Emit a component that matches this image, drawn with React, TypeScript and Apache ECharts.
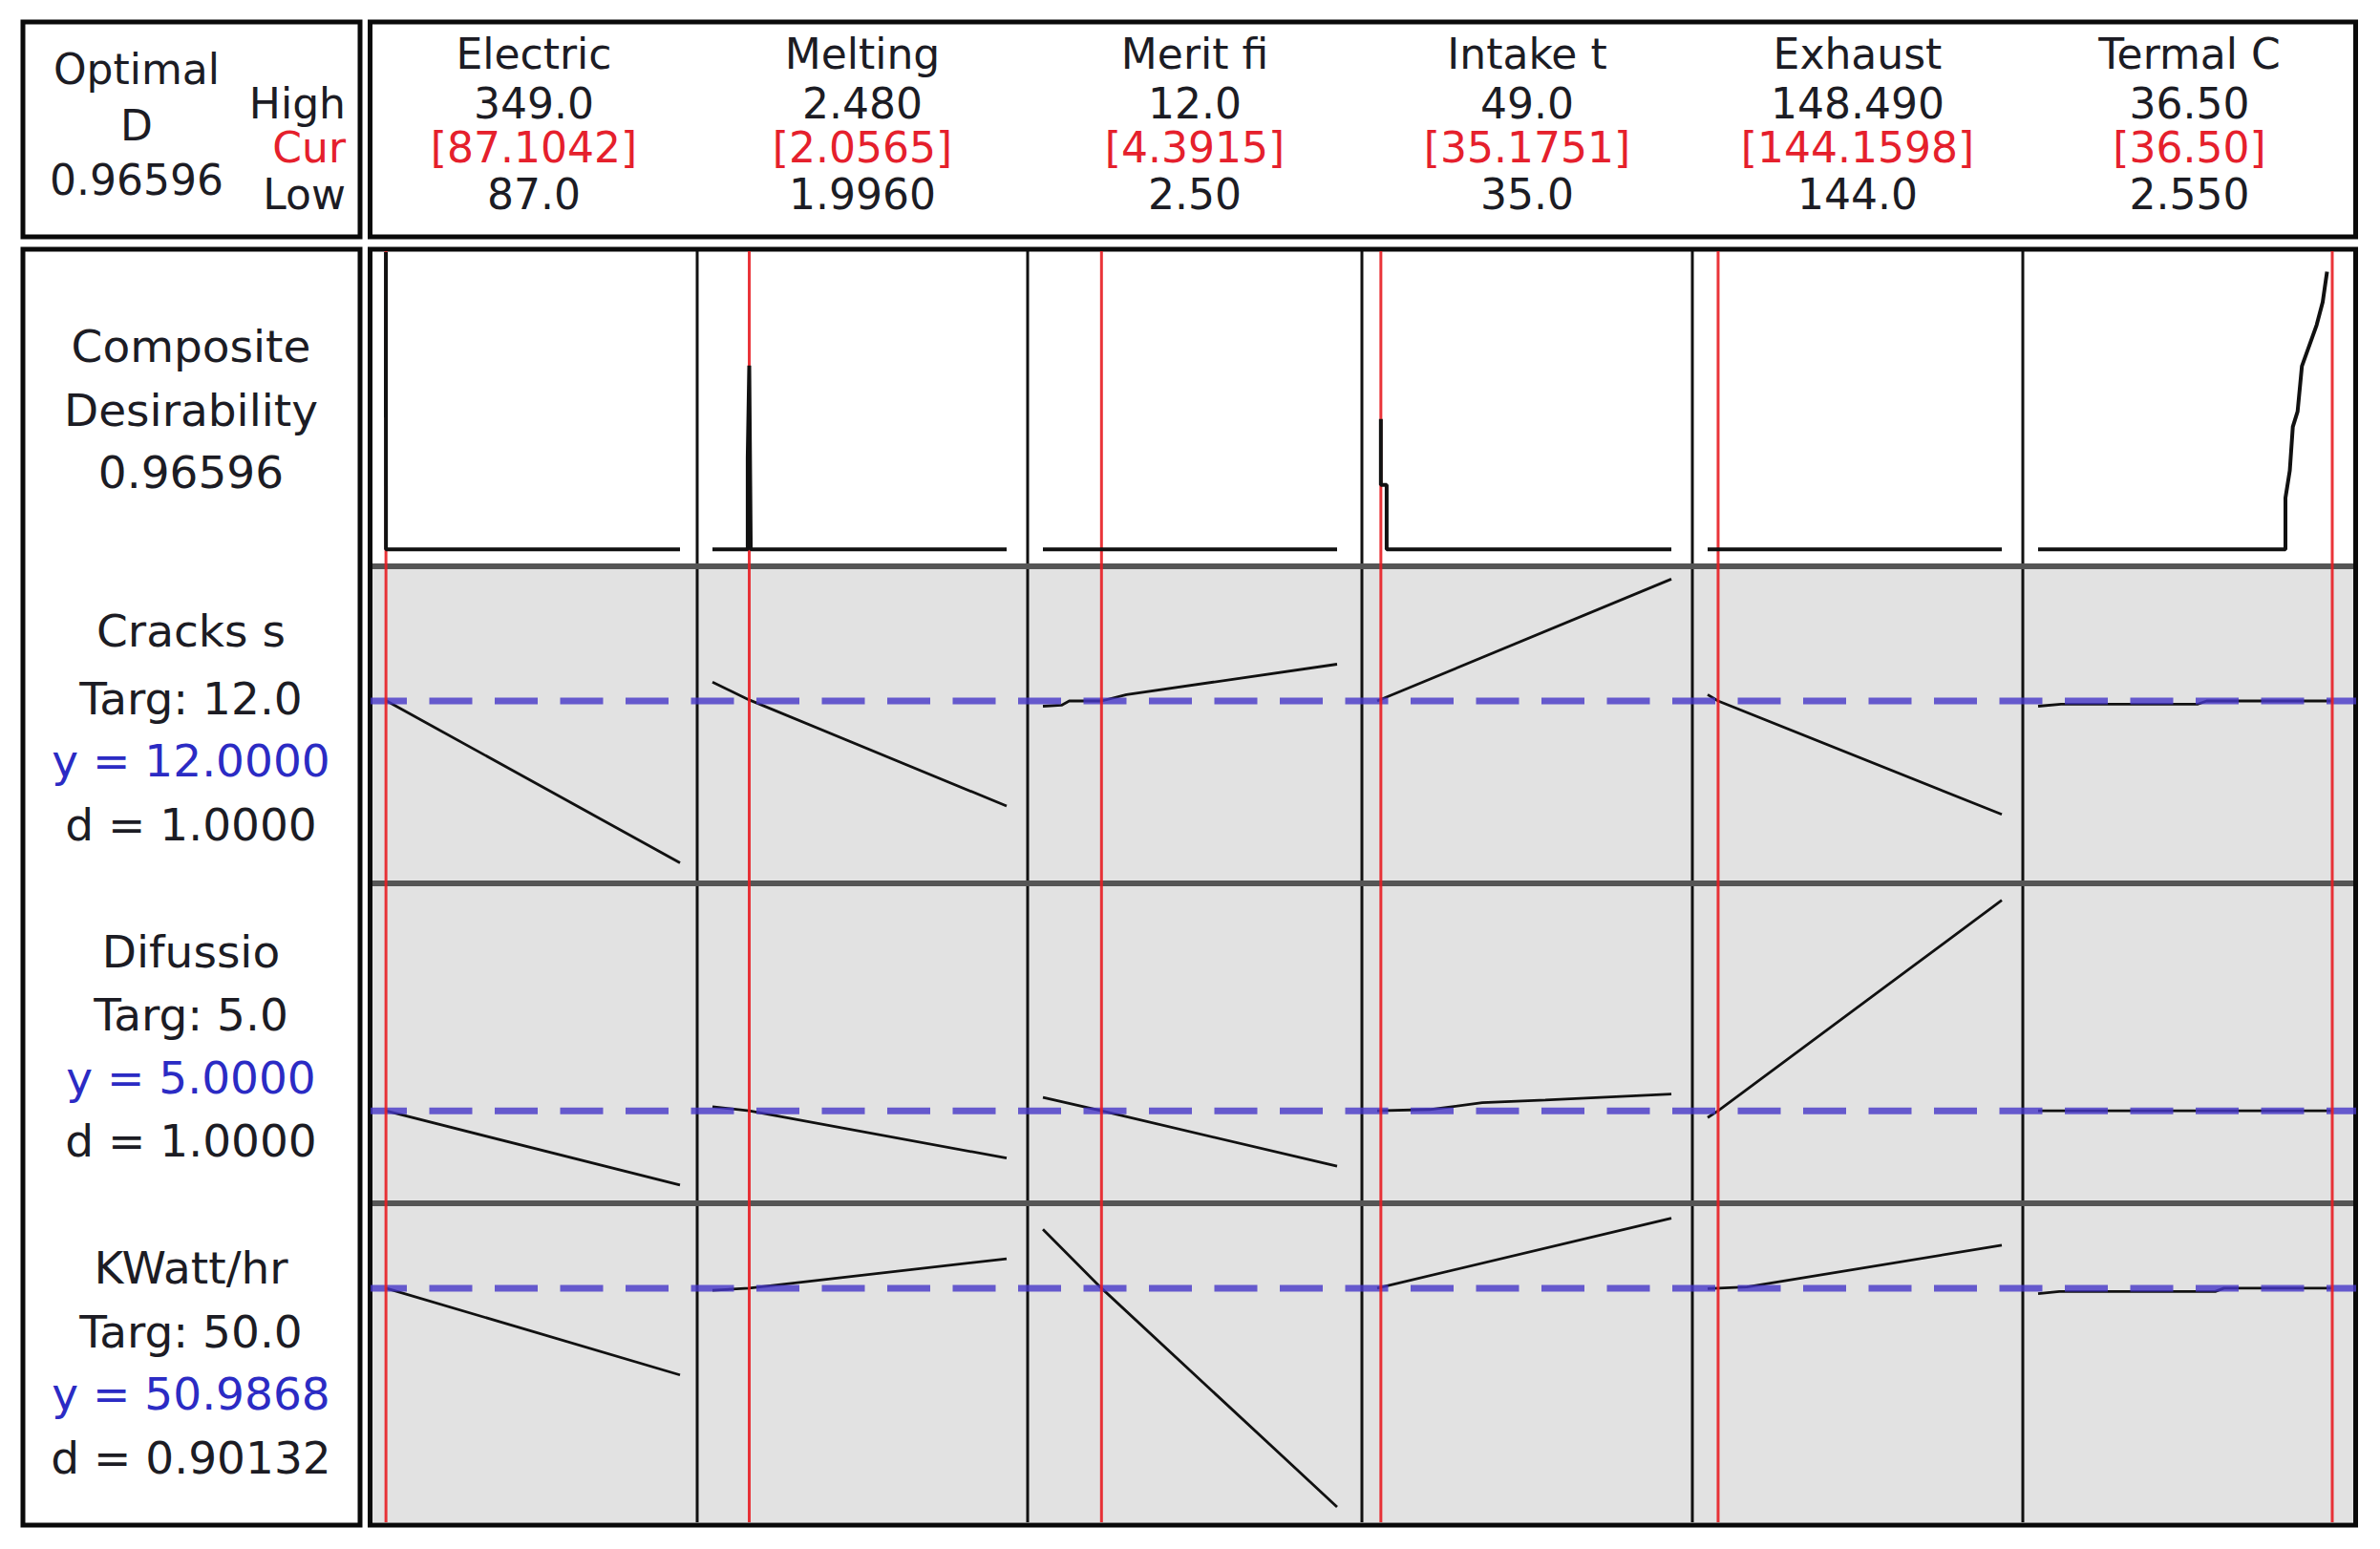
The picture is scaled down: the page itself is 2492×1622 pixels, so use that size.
import React, { useEffect, useRef } from "react";
import * as echarts from "echarts";

// ---------- DATA ----------
const factorNames = ["Electric", "Melting", "Merit fi", "Intake t", "Exhaust", "Termal C"];
const factorHigh = [349.0, 2.48, 12.0, 49.0, 148.49, 36.5];
const factorCur = [87.1042, 2.0565, 4.3915, 35.1751, 144.1598, 36.5];
const factorLow = [87.0, 1.996, 2.5, 35.0, 144.0, 2.55];
const highLabels = ["349.0", "2.480", "12.0", "49.0", "148.490", "36.50"];
const curLabels = ["[87.1042]", "[2.0565]", "[4.3915]", "[35.1751]", "[144.1598]", "[36.50]"];
const lowLabels = ["87.0", "1.9960", "2.50", "35.0", "144.0", "2.550"];

const compositeD = "0.96596";
const responseNames = ["Cracks s", "Difussio", "KWatt/hr"];
const responseTargets = ["Targ: 12.0", "Targ: 5.0", "Targ: 50.0"];
const responseY = [12.0, 5.0, 50.9868];
const responseYLabels = ["y = 12.0000", "y = 5.0000", "y = 50.9868"];
const responseDLabels = ["d = 1.0000", "d = 1.0000", "d = 0.90132"];

// value ranges of each row (composite, cracks, difussio, kwatt)
const rowYRange = [
  [-0.018, 0.97],
  [4, 18],
  [2, 13],
  [31, 57.5],
];

const compositeCurves = [
  [[87.0, 0.43], [87.05, 0.97], [87.1, 0.0], [349.0, 0.0]],
  [[1.996, 0.0], [2.054, 0.0], [2.054, 0.3], [2.0565, 0.6], [2.059, 0.0], [2.48, 0.0]],
  [[2.5, 0.0], [12.0, 0.0]],
  [[35.1751, 0.425], [35.1751, 0.21], [35.45, 0.21], [35.45, 0.0], [49.0, 0.0]],
  [[144.0, 0.0], [148.49, 0.0]],
  [[2.55, 0.0], [31.1, 0.0], [31.1, 0.168], [31.6, 0.257], [31.95, 0.4], [32.5, 0.45], [33.0, 0.598], [34.7, 0.732], [35.4, 0.807], [35.9, 0.906]],
];
const cracksCurves = [
  [[87.0, 12.02], [349.0, 4.3]],
  [[1.996, 12.9], [2.0565, 12.05], [2.48, 7.0]],
  [[2.5, 11.75], [3.1, 11.8], [3.35, 12.0], [4.3915, 12.0], [5.2, 12.3], [12.0, 13.75]],
  [[35.0, 12.0], [49.0, 17.8]],
  [[144.0, 12.3], [144.1598, 12.0], [148.49, 6.6]],
  [[2.55, 11.75], [5.2, 11.85], [21.0, 11.85], [22.0, 12.0], [36.5, 12.0]],
];
const difussioCurves = [
  [[87.0, 5.0], [349.0, 2.25]],
  [[1.996, 5.15], [2.0565, 5.0], [2.48, 3.25]],
  [[2.5, 5.5], [4.3915, 5.0], [12.0, 2.95]],
  [[35.0, 5.0], [37.5, 5.05], [40.0, 5.3], [43.0, 5.4], [49.0, 5.62]],
  [[144.0, 4.75], [144.1598, 5.0], [148.49, 12.8]],
  [[2.55, 5.0], [36.5, 5.0]],
];
const kwattCurves = [
  [[87.0, 50.99], [349.0, 43.3]],
  [[1.996, 50.8], [2.0565, 50.99], [2.48, 53.6]],
  [[2.5, 56.2], [4.3915, 50.99], [12.0, 31.6]],
  [[35.0, 50.99], [49.0, 57.2]],
  [[144.0, 50.95], [144.6, 51.1], [148.49, 54.8]],
  [[2.55, 50.5], [5.0, 50.7], [23.0, 50.7], [24.0, 50.99], [36.5, 50.99]],
];

// ---------- LAYOUT ----------
const W = 2492;
const H = 1622;
const colLefts = [388, 730, 1076, 1426, 1772, 2118];
const PLOT_L = 388;
const PLOT_R = 2467;
const DATA_INSET = 16;
const DATA_W = 308;
const rowGrid = [
  [264, 581],
  [602, 910],
  [937, 1248],
  [1272, 1585],
];
const rowBounds = [263, 593, 925, 1260, 1594];
const FONT = '"DejaVu Sans", Verdana, sans-serif';
const TXT = "#1c1c24";
const RED = "#e5202c";
const BLUE = "#2b2bc4";

function buildOption() {
  const grid: any[] = [];
  const xAxis: any[] = [];
  const yAxis: any[] = [];
  const series: any[] = [];
  let gi = 0;
  const addGrid = (left: number, top: number, width: number, height: number, xmin: number, xmax: number, ymin: number, ymax: number) => {
    grid.push({ left, top, width, height, show: false, containLabel: false });
    xAxis.push({ type: "value", gridIndex: gi, min: xmin, max: xmax, show: false, splitLine: { show: false } });
    yAxis.push({ type: "value", gridIndex: gi, min: ymin, max: ymax, show: false, splitLine: { show: false } });
    return gi++;
  };

  const rows = [compositeCurves, cracksCurves, difussioCurves, kwattCurves];
  rows.forEach((curves, r) => {
    const [top, bottom] = rowGrid[r];
    curves.forEach((pts, c) => {
      const idx = addGrid(colLefts[c] + DATA_INSET, top, DATA_W, bottom - top, factorLow[c], factorHigh[c], rowYRange[r][0], rowYRange[r][1]);
      series.push({
        type: "line",
        xAxisIndex: idx,
        yAxisIndex: idx,
        data: pts,
        symbol: "none",
        silent: true,
        z: r === 0 ? 16 : 10,
        lineStyle: { color: "#111", width: r === 0 ? 4 : 2.8 },
      });
    });
  });

  // dashed target/current lines for each response row
  responseY.forEach((yv, k) => {
    const r = k + 1;
    const [top, bottom] = rowGrid[r];
    const idx = addGrid(PLOT_L, top, PLOT_R - PLOT_L, bottom - top, 0, 1, rowYRange[r][0], rowYRange[r][1]);
    series.push({
      type: "line",
      xAxisIndex: idx,
      yAxisIndex: idx,
      data: [[0, yv], [1, yv]],
      symbol: "none",
      silent: true,
      z: 12,
      lineStyle: { color: "rgba(70,55,200,0.8)", width: 7, type: [45, 23.5], dashOffset: 6.5 },
    });
  });

  // red current-setting lines for each factor
  factorCur.forEach((cv, c) => {
    const idx = addGrid(colLefts[c] + DATA_INSET, rowBounds[0], DATA_W, rowBounds[4] - rowBounds[0], factorLow[c], factorHigh[c], 0, 1);
    series.push({
      type: "line",
      xAxisIndex: idx,
      yAxisIndex: idx,
      data: [[cv, 0], [cv, 1]],
      symbol: "none",
      silent: true,
      z: 14,
      lineStyle: { color: "rgba(232,30,36,0.9)", width: 3 },
    });
  });

  const graphic: any[] = [];
  graphic.push({ type: "rect", z: 0, shape: { x: PLOT_L, y: rowBounds[0], width: PLOT_R - PLOT_L, height: rowBounds[1] - rowBounds[0] }, style: { fill: "#ffffff" } });
  graphic.push({ type: "rect", z: 0, shape: { x: PLOT_L, y: rowBounds[1], width: PLOT_R - PLOT_L, height: rowBounds[4] - rowBounds[1] }, style: { fill: "#e2e2e2" } });
  colLefts.slice(1).forEach((x) => {
    graphic.push({ type: "line", z: 1, shape: { x1: x, y1: rowBounds[0], x2: x, y2: rowBounds[4] }, style: { stroke: "#111", lineWidth: 3 } });
  });
  [rowBounds[1], rowBounds[2], rowBounds[3]].forEach((y) => {
    graphic.push({ type: "line", z: 1, shape: { x1: PLOT_L, y1: y, x2: PLOT_R, y2: y }, style: { stroke: "#555", lineWidth: 6 } });
  });
  const frame = (x: number, y: number, w: number, h: number) => ({
    type: "rect",
    z: 2,
    shape: { x, y, width: w, height: h },
    style: { fill: "rgba(0,0,0,0)", stroke: "#0a0a0a", lineWidth: 5 },
  });
  graphic.push(frame(24, 23, 353, 225));
  graphic.push(frame(387.5, 23, 2079, 225));
  graphic.push(frame(24, 261, 353, 1336));
  graphic.push(frame(387.5, 261, 2079, 1336));

  const text = (t: string, x: number, y: number, fill: string, align: string, size = 44) => ({
    type: "text",
    z: 20,
    style: { text: t, x, y, fill, font: `${size}px ${FONT}`, textAlign: align, textVerticalAlign: "middle", verticalAlign: "middle" },
  });

  // header left box
  graphic.push(text("Optimal", 143, 72, TXT, "center"));
  graphic.push(text("D", 143, 131, TXT, "center"));
  graphic.push(text(compositeD, 143, 188, TXT, "center"));
  graphic.push(text("High", 362, 108, TXT, "right"));
  graphic.push(text("Cur", 362, 154, RED, "right"));
  graphic.push(text("Low", 362, 203, TXT, "right"));

  // header columns
  const headY = [56, 108, 154, 203];
  factorNames.forEach((n, c) => {
    const right = c < 5 ? colLefts[c + 1] : PLOT_R;
    const cx = (colLefts[c] + right) / 2;
    graphic.push(text(n, cx, headY[0], TXT, "center"));
    graphic.push(text(highLabels[c], cx, headY[1], TXT, "center"));
    graphic.push(text(curLabels[c], cx, headY[2], RED, "center"));
    graphic.push(text(lowLabels[c], cx, headY[3], TXT, "center"));
  });

  // left labels
  const LX = 200;
  graphic.push(text("Composite", LX, 362, TXT, "center", 47));
  graphic.push(text("Desirability", LX, 429, TXT, "center", 47));
  graphic.push(text(compositeD, LX, 494, TXT, "center", 47));
  const labelY = [
    [660, 731, 796, 863],
    [996, 1062, 1128, 1194],
    [1327, 1394, 1459, 1526],
  ];
  responseNames.forEach((n, k) => {
    graphic.push(text(n, LX, labelY[k][0], TXT, "center", 47));
    graphic.push(text(responseTargets[k], LX, labelY[k][1], TXT, "center", 47));
    graphic.push(text(responseYLabels[k], LX, labelY[k][2], BLUE, "center", 47));
    graphic.push(text(responseDLabels[k], LX, labelY[k][3], TXT, "center", 47));
  });

  return {
    animation: false,
    backgroundColor: "#ffffff",
    grid,
    xAxis,
    yAxis,
    series,
    graphic: { elements: graphic },
  };
}

export default function App() {
  const ref = useRef<HTMLDivElement>(null);
  useEffect(() => {
    document.body.style.margin = "0";
    if (!ref.current) return;
    const chart = echarts.init(ref.current, undefined, { renderer: "svg" });
    chart.setOption(buildOption() as any);
    return () => chart.dispose();
  }, []);
  return <div ref={ref} style={{ width: W, height: H }} />;
}
